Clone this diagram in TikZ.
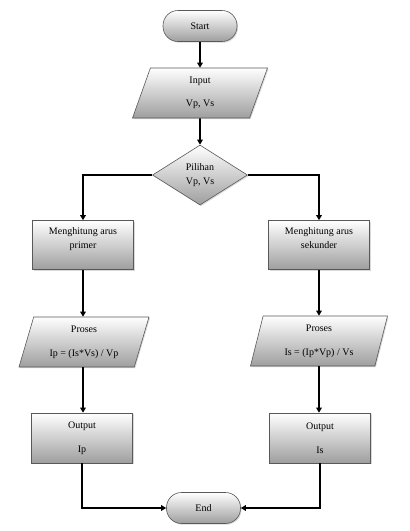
\documentclass[tikz,border=0pt]{standalone}
\usepackage{fontspec}
\setmainfont{Liberation Serif}
\usetikzlibrary{shapes.geometric,shadows,arrows.meta}
\tikzset{
  grad/.style={top color=white, bottom color=black!38, draw=black!65, line width=0.6pt,
    drop shadow={shadow xshift=1pt, shadow yshift=-1.2pt, opacity=0.3}},
  term/.style={grad, rectangle, rounded corners=15pt, minimum width=74pt, minimum height=31pt},
  procbox/.style={grad, rectangle, minimum width=101pt, minimum height=49pt, align=center},
  iobox/.style 2 args={grad, trapezium, trapezium left angle=#1, trapezium right angle=#2,
    trapezium stretches body=true, minimum height=50pt, inner sep=1pt, align=center},
  choice/.style={grad, diamond, minimum width=95pt, minimum height=60pt, inner sep=0pt, align=center},
  flow/.style={line width=1.6pt, -{Triangle[length=5pt,width=5.5pt]}}
}
\begin{document}
\begin{tikzpicture}[x=1pt,y=-1pt,font=\fontsize{10}{12}\selectfont]
  \useasboundingbox (0,0) rectangle (410,531);
  \node[term] (start) at (200,26) {Start};
  \node[iobox={62}{118}, minimum width=135pt] (input) at (200,93) {Input\\[11pt]Vp, Vs};
  \node[choice] (pilihan) at (200,175) {Pilihan\\[2pt]Vp, Vs};
  \node[procbox] (hitungP) at (83,245) {Menghitung arus\\[2pt]primer\\[2pt]\mbox{}};
  \node[procbox] (hitungS) at (319,245) {Menghitung arus\\[2pt]sekunder\\[2pt]\mbox{}};
  \node[iobox={67}{113}, minimum width=130pt] (prosesP) at (84,342) {Proses\\[12pt]Ip = (Is*Vs) / Vp};
  \node[iobox={70}{110}, minimum width=137pt] (prosesS) at (319,341) {Proses\\[12pt]Is = (Ip*Vp) / Vs};
  \node[procbox, minimum height=50pt] (outP) at (82,438) {Output\\[12pt]Ip};
  \node[procbox, minimum height=50pt] (outS) at (320,438) {Output\\[12pt]Is};
  \node[term] (end) at (203.5,508) {End};
  \begin{scope}[flow]
    \draw (start) to (input);
    \draw (input) to (pilihan);
    \draw (pilihan.west) -| (hitungP.north);
    \draw (pilihan.east) -| (hitungS.north);
    \draw (hitungP) to (hitungP |- prosesP.north);
    \draw (hitungS) to (hitungS |- prosesS.north);
    \draw (hitungP |- prosesP.south) to (hitungP |- outP.north);
    \draw (hitungS |- prosesS.south) to (hitungS |- outS.north);
    \draw (outP.south) |- (end.west);
    \draw (outS.south) |- (end.east);
  \end{scope}
\end{tikzpicture}
\end{document}
